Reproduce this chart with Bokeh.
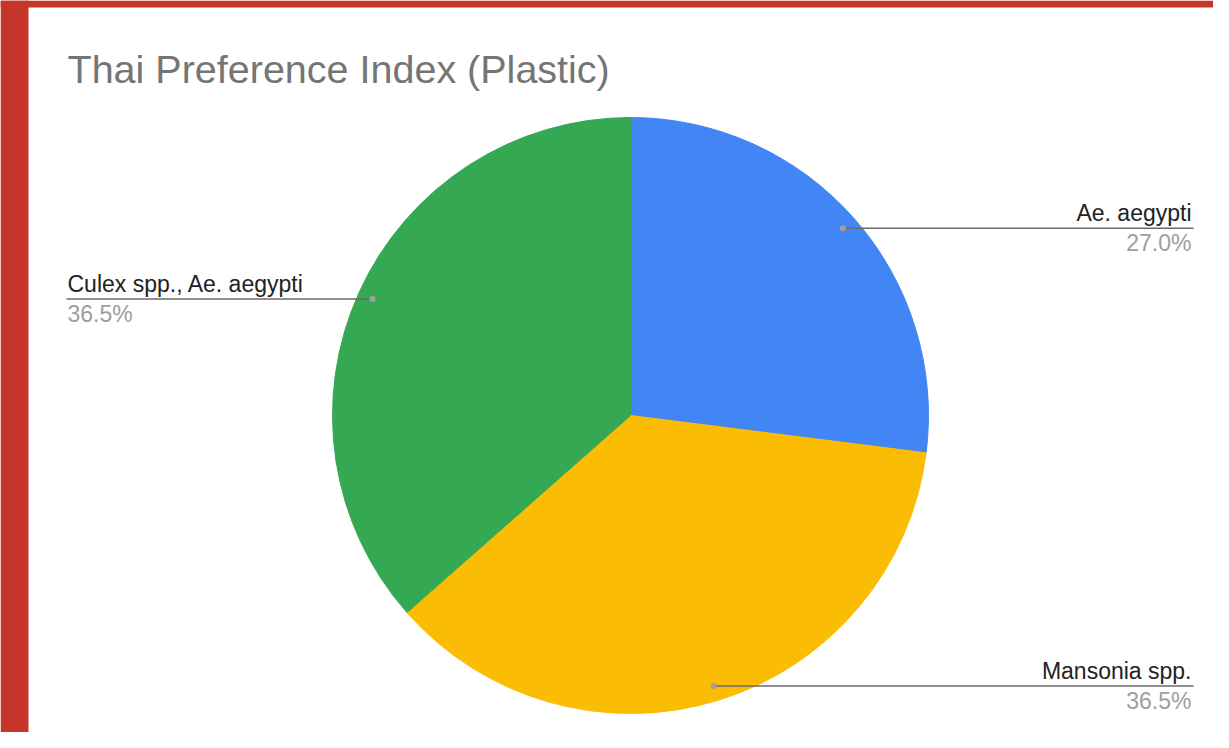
import math
from bokeh.plotting import figure
from bokeh.models import Range1d, Label, ColumnDataSource
from bokeh.embed import file_html
from bokeh.resources import INLINE

# ---- data ----
title_text = "Thai Preference Index (Plastic)"
categories = ["Ae. aegypti", "Mansonia spp.", "Culex spp., Ae. aegypti"]
values = [27.0, 36.5, 36.5]
colors = ["#4285F4", "#FBBC04", "#34A853"]

# ---- layout (image pixel coordinates; data y = TOP - image_y) ----
W, H = 1213, 732
TOP = 748
cx, cy = 630, TOP - 415
R = 298
FONT = "Liberation Sans"

p = figure(width=W, height=H, output_backend="svg", toolbar_location=None,
           x_range=Range1d(0, W), y_range=Range1d(TOP - H, TOP),
           min_border=0, background_fill_color="white", border_fill_color="white")
p.axis.visible = False
p.grid.visible = False
p.outline_line_color = None

# red frame strips (left and top)
p.quad(left=[0, 0], right=[28, W], bottom=[TOP - H, TOP - 7], top=[TOP, TOP],
       fill_color="#C5352A", line_color=None)

# ---- pie ----
total = sum(values)
starts, ends, mids = [], [], []
cum = 0.0
for v in values:
    a0 = 90 - cum / total * 360
    cum += v
    a1 = 90 - cum / total * 360
    starts.append(math.radians(a1))
    ends.append(math.radians(a0))
    mids.append(math.radians((a0 + a1) / 2))

src = ColumnDataSource(dict(x=[cx] * len(values), y=[cy] * len(values),
                            start=starts, end=ends, color=colors))
p.wedge(x="x", y="y", radius=R, start_angle="start", end_angle="end",
        fill_color="color", line_color="color", line_width=1, source=src)

# ---- leader labels ----
for cat, v, m in zip(categories, values, mids):
    ax = cx + 0.95 * R * math.cos(m)
    ay = cy + 0.95 * R * math.sin(m)
    right = math.cos(m) > 0
    if right:
        x_end, tx, align = 1193, 1191, "right"
    else:
        x_end, tx, align = 66, 67, "left"
    p.line([ax, x_end], [ay, ay], line_color="#6a6a6a", line_width=1.5)
    p.scatter([ax], [ay], size=6, fill_color="#a0a0a0", line_color=None)
    p.add_layout(Label(x=tx, y=ay + 15, text=cat, text_align=align,
                       text_baseline="alphabetic", text_font=FONT,
                       text_font_size="23px", text_color="#222222"))
    p.add_layout(Label(x=tx, y=ay - 2, text=f"{v / total * 100:.1f}%",
                       text_align=align, text_baseline="top", text_font=FONT,
                       text_font_size="23px", text_color="#9e9e9e"))

# ---- title ----
p.add_layout(Label(x=67, y=TOP - 68, text=title_text, text_align="left",
                   text_baseline="alphabetic", text_font=FONT,
                   text_font_size="39.5px", text_color="#757575"))

open("out.html", "w").write(file_html(p, INLINE))
